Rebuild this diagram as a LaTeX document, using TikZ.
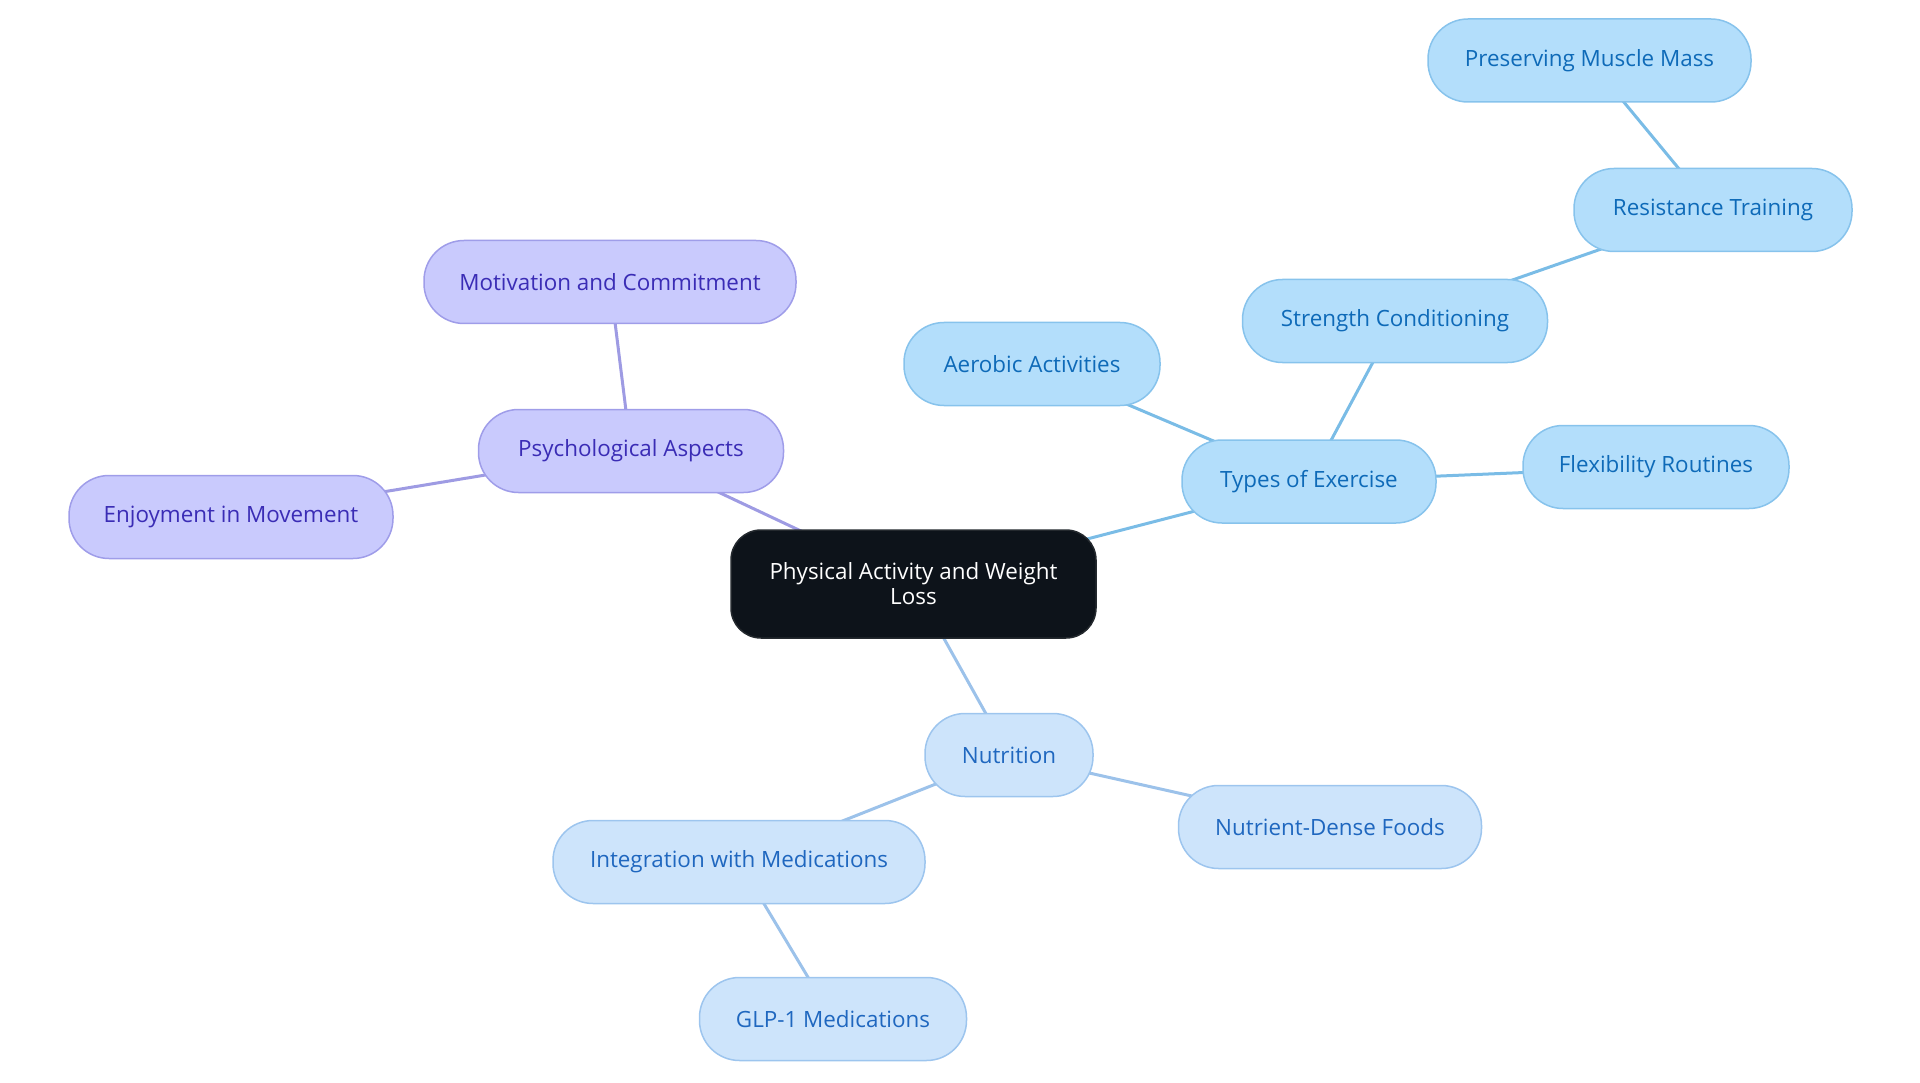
\documentclass[tikz,border=0pt]{standalone}
\usepackage{fontspec}
\setmainfont{Open Sans}
\definecolor{exfill}{HTML}{B3DEFB}
\definecolor{exdraw}{HTML}{87C3EC}
\definecolor{extext}{HTML}{0E6AB8}
\definecolor{exedge}{HTML}{7ABCE6}
\definecolor{nufill}{HTML}{CDE4FB}
\definecolor{nudraw}{HTML}{9DC5EE}
\definecolor{nutext}{HTML}{1F67BF}
\definecolor{nuedge}{HTML}{9CC2EA}
\definecolor{psyfill}{HTML}{C9CAFD}
\definecolor{psydraw}{HTML}{9F9DE9}
\definecolor{psytext}{HTML}{3A2CB5}
\definecolor{psyedge}{HTML}{9E9BE3}
\definecolor{rootfill}{HTML}{0D131A}
\pgfdeclarelayer{background}
\pgfsetlayers{background,main}
\tikzset{
  base/.style={rectangle, rounded corners=40pt, minimum height=83pt, inner sep=0pt,
    font=\fontsize{22.4}{26}\selectfont, line width=1.5pt},
  exnode/.style={base, fill=exfill, draw=exdraw, text=extext},
  nunode/.style={base, fill=nufill, draw=nudraw, text=nutext},
  psynode/.style={base, fill=psyfill, draw=psydraw, text=psytext},
  rootnode/.style={rectangle, rounded corners=30pt, minimum width=365pt, minimum height=108pt,
    inner sep=0pt, fill=rootfill, draw=rootfill!80!gray, line width=1.5pt, text=white, align=center,
    font=\fontsize{22.4}{25}\selectfont},
  exedgestyle/.style={draw=exedge, line width=3pt},
  nuedgestyle/.style={draw=nuedge, line width=3pt},
  psyedgestyle/.style={draw=psyedge, line width=3pt}
}
\begin{document}
\begin{tikzpicture}[x=1pt, y=-1pt]
\useasboundingbox (0,0) rectangle (1920,1083);
\node[rootnode] (root) at (913.5,584) {Physical Activity and Weight\\Loss};
\node[exnode, minimum width=323pt] (pres) at (1589.5,60.5) {Preserving Muscle Mass};
\node[exnode, minimum width=278pt] (resist) at (1713,210) {Resistance Training};
\node[exnode, minimum width=305pt] (strength) at (1395,321) {Strength Conditioning};
\node[exnode, minimum width=256pt] (aerobic) at (1032,364) {Aerobic Activities};
\node[exnode, minimum width=254pt] (types) at (1309,481.5) {Types of Exercise};
\node[exnode, minimum width=266pt] (flex) at (1656,467) {Flexibility Routines};
\node[psynode, minimum width=372pt] (motiv) at (610,282) {Motivation and Commitment};
\node[psynode, minimum width=305pt] (psych) at (631,451) {Psychological Aspects};
\node[psynode, minimum width=324pt] (enjoy) at (231,517) {Enjoyment in Movement};
\node[nunode, minimum width=168pt] (nutri) at (1009,755) {Nutrition};
\node[nunode, minimum width=303pt] (foods) at (1330,827) {Nutrient-Dense Foods};
\node[nunode, minimum width=372pt] (integ) at (739,862) {Integration with Medications};
\node[nunode, minimum width=267pt] (glp) at (833,1019) {GLP-1 Medications};
\begin{pgfonlayer}{background}
\draw[exedgestyle] (root.center) -- (types.center);
\draw[exedgestyle] (types.center) -- (aerobic.center);
\draw[exedgestyle] (types.center) -- (strength.center);
\draw[exedgestyle] (types.center) -- (flex.center);
\draw[exedgestyle] (strength.center) -- (resist.center);
\draw[exedgestyle] (resist.center) -- (pres.center);
\draw[psyedgestyle] (root.center) -- (psych.center);
\draw[psyedgestyle] (psych.center) -- (motiv.center);
\draw[psyedgestyle] (psych.center) -- (enjoy.center);
\draw[nuedgestyle] (root.center) -- (nutri.center);
\draw[nuedgestyle] (nutri.center) -- (foods.center);
\draw[nuedgestyle] (nutri.center) -- (integ.center);
\draw[nuedgestyle] (integ.center) -- (glp.center);
\end{pgfonlayer}
\end{tikzpicture}
\end{document}
